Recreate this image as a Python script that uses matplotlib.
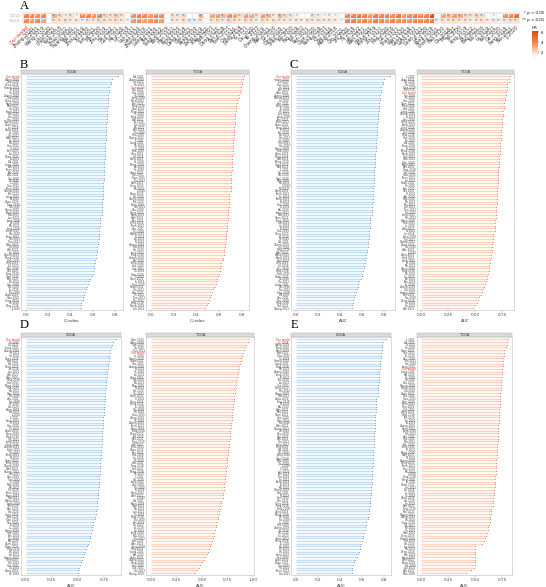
import numpy as np
import matplotlib
matplotlib.use("Agg")
import matplotlib.pyplot as plt
from matplotlib.colors import LinearSegmentedColormap, Normalize
from matplotlib.cm import ScalarMappable

W, H = 546, 587

# signature names (column / row labels)
names = ["Our model", "Zhang.2020", "Li.2021", "Wang.2019", "Liu.2020", "Chen.2021", "Yang.2018", "Zhao.2022", "Huang.2020", "Wu.2021",
         "Zhou.2019", "Xu.2020", "Sun.2021", "Ma.2020", "Zhu.2019", "Hu.2022", "Guo.2021", "He.2020", "Lin.2018", "Luo.2021",
         "Gao.2020", "Zheng.2019", "Liang.2021", "Xie.2020", "Song.2022", "Tang.2019", "Han.2021", "Feng.2020", "Deng.2018", "Cao.2021",
         "Peng.2020", "Zeng.2019", "Xiao.2022", "Tian.2021", "Dong.2020", "Pan.2019", "Yuan.2021", "Cai.2020", "Jiang.2018", "Yu.2021",
         "Du.2020", "Ye.2022", "Cheng.2019", "Wei.2021", "Lu.2020", "Ding.2018", "Shen.2021", "Yao.2020", "Fan.2019", "Tan.2022",
         "Ren.2021", "Qian.2020", "Kang.2019", "Jin.2021", "Bai.2020", "Meng.2018", "Qin.2021", "Shi.2020", "Fu.2019", "Lei.2022",
         "Wen.2021", "Hou.2020", "Xiong.2019", "Zou.2021", "Mao.2020", "Gu.2018", "Shao.2021", "Wan.2020", "Gong.2019", "Long.2022",
         "Duan.2021", "Lai.2020", "Kong.2019", "Chang.2021", "Hao.2020", "Qiu.2018", "Mo.2021", "Yin.2020", "Xing.2019", "Ni.2022",
         "Bao.2021", "Tao.2020", "Lv.2019", "Yan.2021", "Ge.2020", "Fang.2018", "Niu.2021", "Ji.2020"]

# panel A: hazard ratios and significance (2 = p<0.01, 1 = p<0.05, 0 = ns)
hr_tcga = [4.2, 3.9, 3.6, 3.8, 1.1, 3.0, 2.2, 1.6, 1.9, 1.3,
           3.7, 4.0, 3.5, 3.9, 2.3, 2.0, 2.5, 1.8, 1.05, 3.6,
           4.1, 3.8, 3.4, 4.0, 3.7, 1.0, 2.0, 1.8, 2.2, 1.0,
           1.05, 3.0, 1.0, 3.2, 3.5, 2.8, 3.6, 3.3, 2.0, 3.4,
           3.1, 1.9, 3.5, 2.9, 1.7, 3.0, 2.1, 1.8, 1.4, 1.0,
           1.0, 2.0, 1.6, 1.2, 1.5, 1.3, 1.0, 3.8, 4.2, 4.5,
           4.0, 3.6, 4.3, 3.9, 4.1, 3.7, 4.4, 3.5, 3.9, 4.2,
           3.8, 4.0, 6.0, 1.0, 3.2, 2.9, 3.4, 3.0, 2.2, 1.9,
           2.4, 2.0, 1.0, 1.1, 1.0, 3.6, 3.9, 4.8]
hr_cgga = [3.9, 3.5, 3.7, 3.2, 1.0, 1.9, 1.7, 2.0, 1.6, 1.8,
           1.5, 1.8, 1.6, 2.1, 1.9, 1.7, 2.0, 1.6, 1.4, 3.5,
           3.8, 3.3, 3.6, 3.9, 3.4, 1.1, 1.8, 1.6, 1.9, 0.8,
           0.85, 1.7, 1.2, 1.8, 2.0, 1.7, 2.2, 1.9, 1.6, 2.1,
           1.8, 1.5, 2.0, 1.7, 1.9, 1.6, 1.7, 1.5, 1.8, 1.6,
           1.9, 1.7, 1.8, 1.6, 1.7, 1.5, 1.2, 3.9, 4.1, 3.7,
           4.0, 3.6, 4.2, 3.8, 3.5, 4.0, 3.7, 3.9, 3.6, 4.1,
           3.8, 3.9, 4.3, 1.6, 1.8, 1.7, 1.9, 1.6, 1.8, 1.5,
           1.7, 1.9, 1.6, 1.8, 1.5, 1.7, 1.9, 1.8]
sig_tcga = ("22220" "22121" "22222222" "0" "222222" "0" "222" "00" "2" "0"
            "2222222222222" "2210" "02" "2121" "0" "222222222222222" "2" "0" "22222222" "010" "222")
sig_cgga = ("22220" "22222" "22222222" "1" "222222" "0" "222" "22" "2" "0"
            "2222222222222" "2222" "22" "2222" "1" "222222222222222" "2" "2" "22222222" "222" "222")

# panels B-E: metric per signature, in the order of names
b_cgga = [0.83, 0.74, 0.69, 0.77, 0.61, 0.72, 0.66, 0.52, 0.75, 0.70,
          0.68, 0.73, 0.58, 0.71, 0.76, 0.64, 0.69, 0.50, 0.72, 0.67,
          0.74, 0.63, 0.70, 0.55, 0.73, 0.68, 0.71, 0.66, 0.76, 0.60,
          0.69, 0.72, 0.51, 0.65, 0.74, 0.70, 0.62, 0.73, 0.67, 0.71,
          0.57, 0.75, 0.69, 0.64, 0.72, 0.50, 0.70, 0.66, 0.73, 0.68,
          0.71, 0.59, 0.74, 0.67, 0.70, 0.63, 0.72, 0.69, 0.54, 0.71,
          0.65, 0.73, 0.68, 0.70, 0.61, 0.75, 0.66, 0.72, 0.51, 0.69,
          0.71, 0.64, 0.68, 0.73, 0.56, 0.70, 0.67, 0.72, 0.62, 0.69,
          0.74, 0.53, 0.71, 0.66, 0.70, 0.60, 0.68, 0.50]
b_tcga = [0.79, 0.81, 0.72, 0.66, 0.80, 0.58, 0.75, 0.70, 0.63, 0.82,
          0.69, 0.77, 0.54, 0.73, 0.68, 0.80, 0.61, 0.74, 0.71, 0.48,
          0.78, 0.65, 0.72, 0.69, 0.76, 0.57, 0.70, 0.74, 0.67, 0.79,
          0.62, 0.71, 0.75, 0.52, 0.68, 0.73, 0.70, 0.64, 0.77, 0.66,
          0.72, 0.59, 0.69, 0.74, 0.71, 0.50, 0.67, 0.73, 0.65, 0.70,
          0.76, 0.60, 0.68, 0.72, 0.63, 0.71, 0.55, 0.69, 0.74, 0.66,
          0.70, 0.73, 0.49, 0.67, 0.72, 0.61, 0.75, 0.68, 0.70, 0.64,
          0.56, 0.71, 0.69, 0.73, 0.62, 0.67, 0.70, 0.53, 0.72, 0.66,
          0.68, 0.74, 0.58, 0.69, 0.71, 0.64, 0.51, 0.70]
c_cgga = [0.86, 0.77, 0.71, 0.64, 0.79, 0.68, 0.55, 0.74, 0.80, 0.66,
          0.72, 0.59, 0.76, 0.70, 0.52, 0.78, 0.67, 0.73, 0.62, 0.75,
          0.69, 0.77, 0.57, 0.71, 0.74, 0.65, 0.79, 0.68, 0.72, 0.51,
          0.76, 0.70, 0.63, 0.73, 0.67, 0.78, 0.60, 0.71, 0.75, 0.69,
          0.54, 0.74, 0.66, 0.72, 0.77, 0.61, 0.70, 0.73, 0.68, 0.56,
          0.75, 0.71, 0.64, 0.76, 0.69, 0.72, 0.58, 0.74, 0.67, 0.70,
          0.78, 0.62, 0.73, 0.53, 0.71, 0.68, 0.75, 0.65, 0.72, 0.69,
          0.60, 0.74, 0.70, 0.51, 0.73, 0.66, 0.71, 0.76, 0.63, 0.68,
          0.72, 0.57, 0.70, 0.74, 0.67, 0.52, 0.69, 0.71]
c_tcga = [0.79, 0.74, 0.82, 0.68, 0.61, 0.77, 0.71, 0.81, 0.56, 0.73,
          0.66, 0.80, 0.70, 0.63, 0.75, 0.50, 0.72, 0.78, 0.67, 0.69,
          0.74, 0.58, 0.76, 0.71, 0.64, 0.80, 0.68, 0.73, 0.53, 0.70,
          0.77, 0.65, 0.72, 0.69, 0.75, 0.60, 0.71, 0.81, 0.67, 0.73,
          0.62, 0.70, 0.76, 0.48, 0.68, 0.74, 0.71, 0.66, 0.79, 0.69,
          0.55, 0.72, 0.75, 0.64, 0.70, 0.73, 0.67, 0.80, 0.59, 0.71,
          0.68, 0.74, 0.63, 0.77, 0.70, 0.52, 0.72, 0.66, 0.75, 0.69,
          0.71, 0.61, 0.73, 0.67, 0.78, 0.57, 0.70, 0.74, 0.65, 0.68,
          0.72, 0.54, 0.76, 0.69, 0.71, 0.63, 0.70, 0.66]
d_cgga = [0.87, 0.81, 0.74, 0.68, 0.83, 0.60, 0.77, 0.71, 0.55, 0.79,
          0.73, 0.84, 0.66, 0.76, 0.70, 0.80, 0.52, 0.75, 0.69, 0.78,
          0.63, 0.72, 0.82, 0.67, 0.74, 0.58, 0.77, 0.71, 0.80, 0.65,
          0.73, 0.50, 0.76, 0.70, 0.79, 0.62, 0.72, 0.75, 0.68, 0.81,
          0.57, 0.74, 0.71, 0.78, 0.64, 0.73, 0.69, 0.76, 0.53, 0.72,
          0.80, 0.66, 0.75, 0.70, 0.61, 0.77, 0.73, 0.68, 0.79, 0.56,
          0.71, 0.74, 0.64, 0.76, 0.70, 0.51, 0.72, 0.78, 0.67, 0.73,
          0.59, 0.75, 0.69, 0.71, 0.77, 0.62, 0.70, 0.74, 0.54, 0.72,
          0.68, 0.76, 0.65, 0.71, 0.50, 0.73, 0.69, 0.75]
d_tcga = [0.90, 0.86, 0.72, 0.95, 0.64, 0.81, 0.77, 0.53, 0.88, 0.69,
          0.75, 0.92, 0.60, 0.83, 0.71, 0.79, 0.47, 0.85, 0.74, 0.67,
          0.93, 0.78, 0.56, 0.82, 0.70, 0.76, 0.87, 0.62, 0.80, 0.73,
          0.50, 0.84, 0.68, 0.91, 0.77, 0.65, 0.79, 0.72, 0.58, 0.86,
          0.74, 0.81, 0.43, 0.76, 0.89, 0.66, 0.78, 0.71, 0.84, 0.61,
          0.75, 0.96, 0.69, 0.80, 0.55, 0.73, 0.82, 0.77, 0.64, 0.85,
          0.70, 0.48, 0.79, 0.74, 0.83, 0.67, 0.76, 0.59, 0.81, 0.72,
          0.88, 0.63, 0.78, 0.52, 0.75, 0.80, 0.68, 0.73, 0.57, 0.83,
          0.77, 0.66, 0.71, 0.45, 0.79, 0.74, 0.62, 0.70]
e_cgga = [0.82, 0.75, 0.69, 0.78, 0.61, 0.72, 0.66, 0.54, 0.76, 0.70,
          0.73, 0.58, 0.77, 0.68, 0.71, 0.51, 0.74, 0.65, 0.79, 0.69,
          0.72, 0.63, 0.76, 0.70, 0.56, 0.73, 0.67, 0.75, 0.60, 0.71,
          0.78, 0.66, 0.72, 0.52, 0.74, 0.69, 0.77, 0.62, 0.70, 0.73,
          0.57, 0.75, 0.68, 0.71, 0.64, 0.76, 0.51, 0.72, 0.69, 0.74,
          0.67, 0.70, 0.78, 0.59, 0.73, 0.66, 0.71, 0.75, 0.63, 0.69,
          0.72, 0.55, 0.74, 0.68, 0.70, 0.77, 0.61, 0.73, 0.67, 0.71,
          0.53, 0.75, 0.69, 0.72, 0.64, 0.70, 0.76, 0.58, 0.71, 0.68,
          0.73, 0.65, 0.69, 0.51, 0.72, 0.67, 0.74, 0.70]
e_tcga = [0.75, 0.71, 0.80, 0.64, 0.50, 0.77, 0.68, 0.73, 0.59, 0.79,
          0.66, 0.74, 0.70, 0.50, 0.76, 0.62, 0.72, 0.78, 0.67, 0.49,
          0.73, 0.69, 0.75, 0.56, 0.71, 0.65, 0.77, 0.70, 0.50, 0.74,
          0.68, 0.72, 0.61, 0.76, 0.69, 0.50, 0.73, 0.66, 0.71, 0.79,
          0.64, 0.70, 0.74, 0.46, 0.67, 0.72, 0.69, 0.76, 0.58, 0.71,
          0.65, 0.73, 0.50, 0.68, 0.75, 0.70, 0.63, 0.72, 0.77, 0.66,
          0.50, 0.69, 0.74, 0.71, 0.41, 0.67, 0.73, 0.70, 0.60, 0.76,
          0.68, 0.72, 0.50, 0.65, 0.71, 0.74, 0.69, 0.62, 0.73, 0.70,
          0.66, 0.50, 0.72, 0.68, 0.75, 0.64, 0.71, 0.69]

BLUE, BLUE_L = "#5b9bd5", "#c6dcf0"
ORANGE, ORANGE_L = "#f0784a", "#fbd3c2"
RED = "#e8262a"


def box(x0, y0, x1, y1):
    # pixel box -> figure fraction
    return [x0 / W, 1 - y1 / H, (x1 - x0) / W, (y1 - y0) / H]


fig = plt.figure(figsize=(W / 100, H / 100), dpi=100)
serif = "Liberation Serif"

# ---------------- panel A: heatmap ----------------
N = len(names)
hr = np.array([hr_tcga, hr_cgga])
sig = [sig_tcga, sig_cgga]
cmap = LinearSegmentedColormap.from_list(
    "hr", [(0.0, "#dce9f5"), (0.04, "#ffffff"), (0.25, "#fcd5bb"),
           (0.55, "#f3894f"), (1.0, "#d94a0a")])
norm = Normalize(vmin=0.8, vmax=6.2)

ax = fig.add_axes(box(22, 12, 520, 24))
ax.set_facecolor("#ebebeb")
ax.pcolormesh(np.arange(N + 1) - 0.5, [-0.5, 0.5, 1.5], hr, cmap=cmap, norm=norm,
              edgecolors="#ebebeb", linewidth=0.7)
for r in range(2):
    for c in range(N):
        s = "*" * int(sig[r][c])
        if s:
            ax.text(c, r + 0.05, s, ha="center", va="center", fontsize=2.6,
                    color="white" if hr[r, c] > 3 else "#555555")
ax.set_xlim(-0.7, N - 0.3)
ax.set_ylim(1.7, -0.7)
ax.set_xticks(range(N))
ax.set_xticklabels(names, rotation=45, ha="right", va="top", fontsize=3.3,
                   color="#333333", rotation_mode="anchor")
ax.get_xticklabels()[0].set_color(RED)
ax.set_yticks([0, 1])
ax.set_yticklabels(["TCGA", "CGGA"], fontsize=3, family=serif)
ax.get_yticklabels()[0].set_color(ORANGE)
ax.get_yticklabels()[1].set_color(BLUE)
ax.tick_params(length=0, pad=1)
for sp in ax.spines.values():
    sp.set_visible(False)

fig.text(544 / W, 1 - 13 / H, "* p < 0.05", fontsize=2.8, ha="right", va="center")
fig.text(544 / W, 1 - 20 / H, "** p < 0.01", fontsize=2.8, ha="right", va="center")
cax = fig.add_axes(box(532, 31, 538, 58))
cb = fig.colorbar(ScalarMappable(norm=norm, cmap=cmap), cax=cax, ticks=[2, 4, 6])
cb.outline.set_visible(False)
cax.tick_params(labelsize=2.8, length=1, width=0.3, pad=1)
cax.set_title("HR", fontsize=3, pad=1.5)
fig.text(24 / W, 1 - 6 / H, "A", fontsize=9, family=serif, ha="center", va="center")

# ---------------- panels B-E ----------------
ticks_08 = [0.0, 0.2, 0.4, 0.6, 0.8]
ticks_075 = [0.0, 0.25, 0.5, 0.75]
ticks_100 = [0.0, 0.25, 0.5, 0.75, 1.0]

panels = [
    ("B", 24, 65, 70, 310, "C-index",
     [(b_cgga, ticks_08, "{:.1f}", 21, 123), (b_tcga, ticks_08, "{:.1f}", 146, 249)]),
    ("C", 294, 65, 70, 310, "AUC",
     [(c_cgga, ticks_08, "{:.1f}", 291, 395), (c_tcga, ticks_075, "{:.2f}", 417, 514)]),
    ("D", 24, 325, 333, 575, "AUC",
     [(d_cgga, ticks_075, "{:.2f}", 21, 121), (d_tcga, ticks_100, "{:.2f}", 146, 254)]),
    ("E", 294, 325, 333, 575, "AUC",
     [(e_cgga, ticks_08, "{:.1f}", 291, 391), (e_tcga, ticks_075, "{:.2f}", 417, 512)]),
]

for letter, lx, ly, top, bottom, xlabel, subs in panels:
    fig.text(lx / W, 1 - ly / H, letter, fontsize=9, family=serif, ha="center", va="center")
    for (vals, ticks, fmt, x0, x1), cohort in zip(subs, ["CGGA", "TCGA"]):
        dark, light = (BLUE, BLUE_L) if cohort == "CGGA" else (ORANGE, ORANGE_L)
        vals = np.array(vals)
        order = np.argsort(-vals, kind="stable")
        v = vals[order]
        labs = [names[i] for i in order]
        y = np.arange(N)

        sax = fig.add_axes(box(x0, top, x1, top + 4))
        sax.set_facecolor("#d9d9d9")
        sax.set_xticks([])
        sax.set_yticks([])
        for sp in sax.spines.values():
            sp.set_color("#aaaaaa")
            sp.set_linewidth(0.3)
        sax.text(0.5, 0.5, cohort, fontsize=2.4, ha="center", va="center",
                 transform=sax.transAxes, color="#333333")

        a = fig.add_axes(box(x0, top + 4, x1, bottom))
        a.hlines(y, 0, v, color=light, lw=1.0)
        a.scatter(v, y, s=0.6, color=dark, lw=0, zorder=3)
        vmax = v.max()
        a.set_xlim(-0.05 * vmax, 1.05 * vmax)
        a.set_ylim(N - 0.3, -0.9)
        a.set_yticks(y)
        a.set_yticklabels(labs, fontsize=1.9, color="#444444")
        for lab in a.get_yticklabels():
            if lab.get_text() == "Our model":
                lab.set_color(RED)
        a.set_xticks(ticks)
        a.set_xticklabels([fmt.format(t) for t in ticks], fontsize=3, color="#444444")
        a.set_xlabel(xlabel, fontsize=3, labelpad=1.5, color="#333333")
        a.tick_params(axis="y", length=0, pad=1)
        a.tick_params(axis="x", length=1.2, width=0.3, pad=1, color="#888888")
        for sp in a.spines.values():
            sp.set_color("#bbbbbb")
            sp.set_linewidth(0.4)

fig.savefig("out.png", dpi=100)
